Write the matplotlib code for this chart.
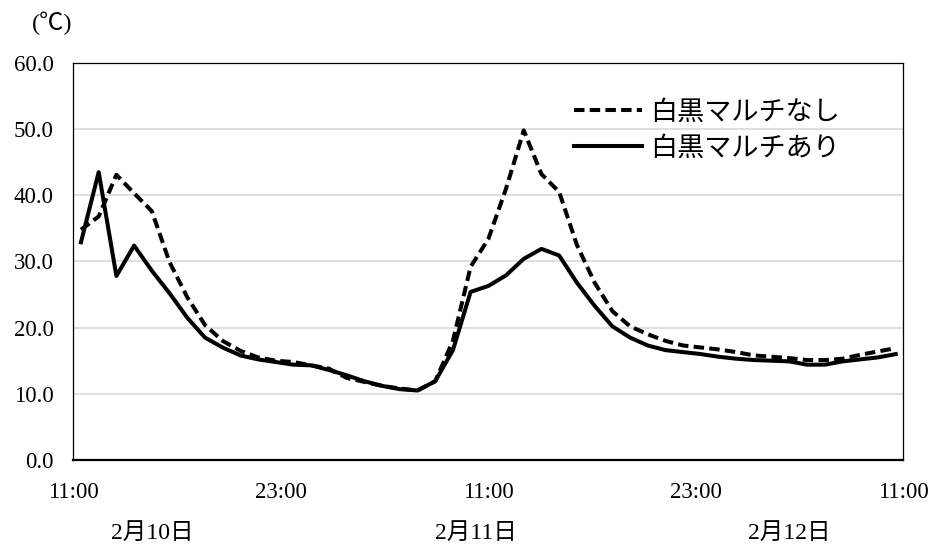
import matplotlib
matplotlib.use("Agg")
import matplotlib.pyplot as plt
import numpy as np

plt.rcParams['font.family'] = ['Liberation Serif', 'Noto Sans CJK JP']

# 計測間隔（時間）と開始位置
start_h = 0.46
step_h = 1.0243

# 白黒マルチなし（破線）
nashi = [34.8, 36.8, 43.1, 40.3, 37.6, 29.9, 24.6, 20.4, 18.0, 16.5,
         15.5, 15.0, 14.8, 14.3, 13.8, 12.4, 11.8, 11.2, 10.8, 10.5,
         11.9, 18.0, 29.2, 33.4, 41.0, 49.8, 43.2, 40.5, 32.5, 26.8,
         22.5, 20.2, 19.0, 18.0, 17.3, 17.0, 16.7, 16.3, 15.8, 15.6,
         15.4, 15.1, 15.1, 15.3, 15.9, 16.4, 16.9]

# 白黒マルチあり（実線）
ari = [32.9, 43.5, 27.8, 32.4, 28.6, 25.2, 21.5, 18.5, 17.0, 15.8,
       15.2, 14.8, 14.4, 14.3, 13.6, 12.8, 11.9, 11.2, 10.7, 10.5,
       11.9, 16.6, 25.4, 26.3, 27.9, 30.4, 31.9, 30.9, 26.8, 23.3,
       20.2, 18.5, 17.3, 16.6, 16.3, 16.0, 15.6, 15.3, 15.1, 15.0,
       14.9, 14.4, 14.4, 14.9, 15.2, 15.5, 16.0]

xtick_pos = [0, 12, 24, 36, 48]
xtick_labels = ["11:00", "23:00", "11:00", "23:00", "11:00"]
yticks = [0, 10, 20, 30, 40, 50, 60]
dates = ["2月10日", "2月11日", "2月12日"]
date_pos = [4.6, 23.3, 41.4]

hours = start_h + step_h * np.arange(len(ari))

fig = plt.figure(figsize=(9.29, 5.52), dpi=100)
ax = fig.add_axes([0.0786, 0.1667, 0.8934, 0.7193])

for y in yticks[1:-1]:
    ax.axhline(y, color="#d9d9d9", lw=1.2, zorder=0)

ax.plot(hours, nashi, color="black", lw=2.9, dashes=(2.6, 1.3),
        label="白黒マルチなし", zorder=3)
ax.plot(hours, ari, color="black", lw=2.9, label="白黒マルチあり", zorder=2)

ax.set_xlim(0, 48)
ax.set_ylim(0, 60)
ax.set_xticks(xtick_pos)
ax.set_xticklabels(xtick_labels)
ax.set_yticks(yticks)
ax.set_yticklabels([f"{v:.1f}" for v in yticks])
ax.tick_params(axis="both", length=0, labelsize=16.5)
ax.tick_params(axis="x", pad=16)
ax.tick_params(axis="y", pad=14)

for s in ax.spines.values():
    s.set_linewidth(0.9)
ax.spines["bottom"].set_linewidth(1.6)

for d, p in zip(dates, date_pos):
    ax.text(p, -0.185, d, transform=ax.get_xaxis_transform(),
            ha="center", va="center", fontsize=17)

fig.text(52 / 929, 1 - 23 / 552, "(℃)", ha="center", va="center", fontsize=17.5)

ax.legend(loc="upper left", bbox_to_anchor=(0.574, 0.966), frameon=False,
          fontsize=19.5, handlelength=2.5, labelspacing=0.4, handletextpad=0.3)

fig.savefig("out.png", dpi=100)
